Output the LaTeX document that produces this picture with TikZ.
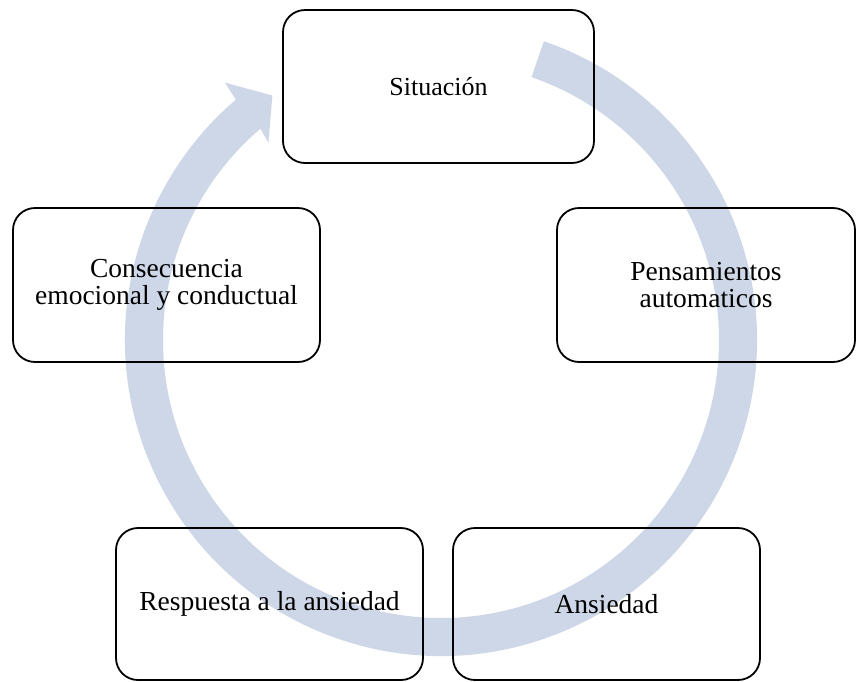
\documentclass[tikz,border=0pt]{standalone}
\usepackage{fontspec}
\setmainfont{Liberation Serif}
\definecolor{arrowcol}{RGB}{206,215,231}
\tikzset{
  stepbox/.style={draw=black, line width=1.8pt, rounded corners=22pt, align=center,
    font=\fontsize{27.5}{27.5}\selectfont, inner sep=4pt},
}
\begin{document}
\begin{tikzpicture}[x=1pt,y=-1pt]
\useasboundingbox (0,0) rectangle (857,681);
\fill[white] (0,0) rectangle (857,681);
% circular arrow
\begin{scope}[shift={(441,340)}, yscale=-1]
  \fill[arrowcol] (71:316) arc[start angle=71, end angle=-229.5, radius=316]
    -- (-230:336) -- (-235.4:297) -- (-228.8:262) -- (-229.5:278)
    arc[start angle=-229.5, end angle=71, radius=278] -- cycle;
\end{scope}
% boxes
\node[stepbox, minimum width=311pt, minimum height=153pt, font=\fontsize{26}{26}\selectfont] (sit) at (438.5,86.5) {Situación};
\node[stepbox, minimum width=307pt, minimum height=154pt] (cons) at (166.5,285) {Consecuencia\\emocional y conductual};
\node[stepbox, minimum width=298pt, minimum height=154pt] (pens) at (706,285) {Pensamientos\\automaticos};
\node[stepbox, minimum width=307pt, minimum height=152pt] (resp) at (269.5,604) {Respuesta a la ansiedad};
\node[stepbox, minimum width=307pt, minimum height=152pt] (ans) at (606.5,604) {Ansiedad};
\end{tikzpicture}
\end{document}
